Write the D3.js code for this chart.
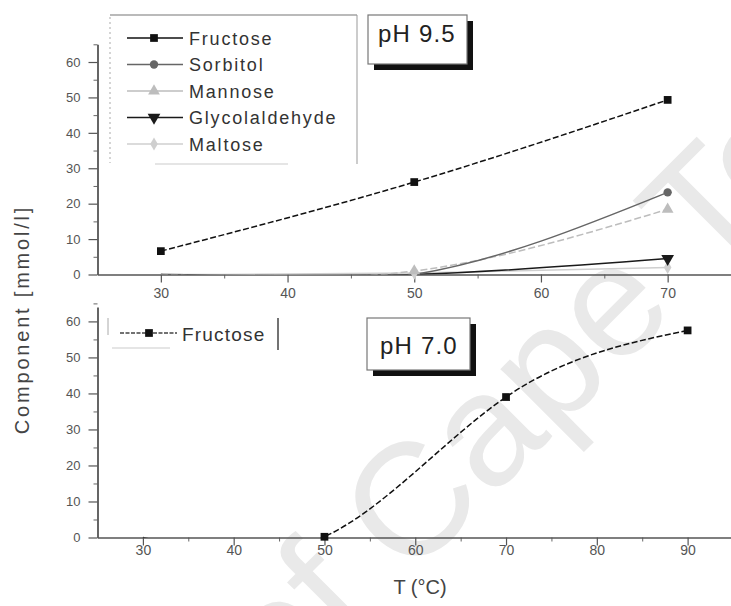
<!DOCTYPE html>
<html>
<head>
<meta charset="utf-8">
<script src="https://cdn.jsdelivr.net/npm/d3@7"></script>
<style>
  body { margin: 0; background: #fff; }
  svg { display: block; }
</style>
</head>
<body>
<svg id="chart" width="731" height="606"></svg>
<script>
// ---- data -------------------------------------------------------------
// pH 9.5: concentrations (mmol/l) at the sampled temperatures (°C)
const tempsAlkaline = [30, 50, 70];
const fructoseAlkaline = [6.6, 26.1, 49.3];
const sorbitolAlkaline = [0, 0, 23.2];
const mannoseAlkaline = [0, 1.0, 18.4];
const glycolaldehydeAlkaline = [0, 0, 4.5];
const maltoseAlkaline = [0, 0.4, 2.0];

// pH 7.0
const tempsNeutral = [30, 50, 70, 90];
const fructoseNeutral = [0, 0.2, 39.0, 57.5];

const seriesNames = ["Fructose", "Sorbitol", "Mannose", "Glycolaldehyde", "Maltose"];

const xTicksAlkaline = [30, 40, 50, 60, 70];
const xTicksNeutral = [30, 40, 50, 60, 70, 80, 90];
const yTickValues = [0, 10, 20, 30, 40, 50, 60];

const yAxisTitle = "Component [mmol/l]";
const xAxisTitle = "T (°C)";
const panelTitles = ["pH 9.5", "pH 7.0"];
const watermark = "University of Cape Town";

// ---- styling ----------------------------------------------------------
const FONT = "'Liberation Sans', Arial, Helvetica, sans-serif";
const seriesStyle = {
  Fructose:       { color: "#111",    dash: "6,2.5", symbol: d3.symbolSquare,   size: 60, rotate: 0 },
  Sorbitol:       { color: "#666",    dash: null,    symbol: d3.symbolCircle,   size: 55, rotate: 0 },
  Mannose:        { color: "#bdbdbd", dash: "7,3",   symbol: d3.symbolTriangle, size: 60, rotate: 0 },
  Glycolaldehyde: { color: "#1a1a1a", dash: null,    symbol: d3.symbolTriangle, size: 70, rotate: 180 },
  Maltose:        { color: "#cfcfcf", dash: null,    symbol: d3.symbolDiamond,  size: 50, rotate: 0 }
};

const svg = d3.select("#chart");

// faint watermark behind everything
svg.append("text")
  .attr("transform", "translate(972,17) rotate(-45)")
  .attr("text-anchor", "end")
  .attr("font-family", FONT)
  .attr("font-size", 160)
  .attr("fill", "#e9e9e9")
  .text(watermark);

// ---- panels -----------------------------------------------------------
const panels = [
  {
    id: "alkaline",
    x: d3.scaleLinear().domain([25, 75]).range([97.5, 731]),
    y: d3.scaleLinear().domain([0, 65]).range([274.5, 44.3]),
    xTicks: xTicksAlkaline,
    xLabelPad: 5.5,
    temps: tempsAlkaline,
    series: [
      { name: "Fructose", values: fructoseAlkaline },
      { name: "Sorbitol", values: sorbitolAlkaline },
      { name: "Mannose", values: mannoseAlkaline },
      { name: "Glycolaldehyde", values: glycolaldehydeAlkaline },
      { name: "Maltose", values: maltoseAlkaline }
    ]
  },
  {
    id: "neutral",
    x: d3.scaleLinear().domain([25, 95]).range([97.5, 733]),
    y: d3.scaleLinear().domain([0, 64]).range([537.5, 307]),
    xTicks: xTicksNeutral,
    xLabelPad: 0,
    temps: tempsNeutral,
    series: [
      { name: "Fructose", values: fructoseNeutral }
    ]
  }
];

function styleAxis(g, width) {
  g.select(".domain").attr("stroke", "#555").attr("stroke-width", width);
  g.selectAll(".tick line").attr("stroke", "#555").attr("stroke-width", 1.2);
  g.selectAll(".tick text")
    .attr("fill", "#555")
    .attr("font-family", FONT);
}

function marker(g, name, x, y) {
  const s = seriesStyle[name];
  g.append("path")
    .attr("d", d3.symbol().type(s.symbol).size(s.size)())
    .attr("transform", `translate(${x},${y}) rotate(${s.rotate})`)
    .attr("fill", s.color);
}

panels.forEach(p => {
  const g = svg.append("g").attr("class", p.id);
  const [x0, x1] = p.x.range();
  const [yBase, yTop] = p.y.range();

  // minor ticks halfway between majors
  const xMinor = p.xTicks.map(t => t + 5);
  const yMinor = yTickValues.map(t => t + 5);

  g.append("g")
    .attr("transform", `translate(0,${yBase})`)
    .call(d3.axisBottom(p.x).tickValues(xMinor).tickSize(4).tickFormat(""))
    .call(a => { a.select(".domain").remove(); a.selectAll(".tick line").attr("stroke", "#666"); });

  g.append("g")
    .attr("transform", `translate(${x0},0)`)
    .call(d3.axisLeft(p.y).tickValues(yMinor).tickSize(4).tickFormat(""))
    .call(a => { a.select(".domain").remove(); a.selectAll(".tick line").attr("stroke", "#666"); });

  g.append("g")
    .attr("transform", `translate(0,${yBase})`)
    .call(d3.axisBottom(p.x).tickValues(p.xTicks).tickSize(8).tickSizeOuter(0)
      .tickPadding(p.xLabelPad).tickFormat(d3.format("d")))
    .call(a => styleAxis(a, 1.6))
    .call(a => a.selectAll(".tick text").attr("font-size", 14));

  g.append("g")
    .attr("transform", `translate(${x0},0)`)
    .call(d3.axisLeft(p.y).tickValues(yTickValues).tickSize(9).tickSizeOuter(0)
      .tickPadding(8).tickFormat(d3.format("d")))
    .call(a => styleAxis(a, 1.8))
    .call(a => a.selectAll(".tick text").attr("font-size", 13));

  // clip the curves to the plotting area
  const clipId = `clip-${p.id}`;
  svg.append("clipPath").attr("id", clipId)
    .append("rect")
    .attr("x", x0).attr("y", yTop - 5)
    .attr("width", x1 - x0).attr("height", yBase - yTop + 5);

  const line = d3.line()
    .x(d => p.x(d[0]))
    .y(d => p.y(d[1]))
    .curve(d3.curveNatural);

  // draw lighter series first so the darker ones stay on top
  const order = p.series.slice().reverse();
  order.forEach(s => {
    const st = seriesStyle[s.name];
    const pts = p.temps.map((t, i) => [t, s.values[i]]);
    g.append("path")
      .datum(pts)
      .attr("clip-path", `url(#${clipId})`)
      .attr("fill", "none")
      .attr("stroke", st.color)
      .attr("stroke-width", 1.5)
      .attr("stroke-dasharray", st.dash)
      .attr("d", line);
  });
  order.forEach(s => {
    p.temps.forEach((t, i) => {
      // markers only where the component was detected
      if (s.values[i] > 0) marker(g, s.name, p.x(t), p.y(s.values[i]));
    });
  });
});

// ---- legend (pH 9.5) --------------------------------------------------
const lg = svg.append("g");
lg.append("rect").attr("x", 110).attr("y", 15).attr("width", 247).attr("height", 149).attr("fill", "#fff");
lg.append("line").attr("x1", 110).attr("x2", 357).attr("y1", 15).attr("y2", 15).attr("stroke", "#777").attr("stroke-width", 1.2);
lg.append("line").attr("x1", 357).attr("x2", 357).attr("y1", 15).attr("y2", 164).attr("stroke", "#999");
lg.append("line").attr("x1", 110).attr("x2", 110).attr("y1", 17).attr("y2", 163).attr("stroke", "#aaa").attr("stroke-dasharray", "2,3");
lg.append("line").attr("x1", 155).attr("x2", 288).attr("y1", 164).attr("y2", 164).attr("stroke", "#ddd").attr("stroke-width", 1.5);

seriesNames.forEach((name, i) => {
  const y = 38 + i * 26.5;
  const st = seriesStyle[name];
  lg.append("line").attr("x1", 127).attr("x2", 183).attr("y1", y).attr("y2", y)
    .attr("stroke", st.color).attr("stroke-width", 1.5);
  marker(lg, name, 154, y);
  lg.append("text").attr("x", 189).attr("y", y + 6.5)
    .attr("font-family", FONT).attr("font-size", 18).attr("letter-spacing", 1.8)
    .attr("fill", "#333").text(name);
});

// ---- legend (pH 7.0) --------------------------------------------------
const lg2 = svg.append("g");
lg2.append("line").attr("x1", 108).attr("x2", 108).attr("y1", 318).attr("y2", 335).attr("stroke", "#aaa");
lg2.append("line").attr("x1", 278).attr("x2", 278).attr("y1", 318).attr("y2", 350).attr("stroke", "#444").attr("stroke-width", 1.5);
lg2.append("line").attr("x1", 112).attr("x2", 170).attr("y1", 348).attr("y2", 348).attr("stroke", "#ddd").attr("stroke-width", 1.5);
lg2.append("line").attr("x1", 120).attr("x2", 177).attr("y1", 333).attr("y2", 333)
  .attr("stroke", "#444").attr("stroke-width", 1.5).attr("stroke-dasharray", "4,1.5");
marker(lg2, "Fructose", 149, 333);
lg2.append("text").attr("x", 182).attr("y", 340.5)
  .attr("font-family", FONT).attr("font-size", 19).attr("letter-spacing", 1.2)
  .attr("fill", "#333").text(seriesNames[0]);

// ---- pH boxes ---------------------------------------------------------
const boxes = [
  { x: 368, y: 15, w: 99, h: 49, tx: 378, ty: 42 },
  { x: 367, y: 318, w: 103, h: 52, tx: 380, ty: 354 }
];
boxes.forEach((b, i) => {
  svg.append("rect").attr("x", b.x + 6).attr("y", b.y + 6).attr("width", b.w).attr("height", b.h).attr("fill", "#111");
  svg.append("rect").attr("x", b.x).attr("y", b.y).attr("width", b.w).attr("height", b.h)
    .attr("fill", "#fff").attr("stroke", "#777").attr("stroke-width", 1.2);
  svg.append("text").attr("x", b.tx).attr("y", b.ty)
    .attr("font-family", FONT).attr("font-size", 24).attr("letter-spacing", 1.2)
    .attr("fill", "#222").text(panelTitles[i]);
});

// ---- axis titles ------------------------------------------------------
svg.append("text")
  .attr("transform", "translate(29,319.5) rotate(-90)")
  .attr("text-anchor", "middle")
  .attr("font-family", FONT).attr("font-size", 20).attr("letter-spacing", 2.8)
  .attr("fill", "#444").text(yAxisTitle);

svg.append("text")
  .attr("x", 420).attr("y", 594)
  .attr("text-anchor", "middle")
  .attr("font-family", FONT).attr("font-size", 20)
  .attr("fill", "#444").text(xAxisTitle);
</script>
</body>
</html>
